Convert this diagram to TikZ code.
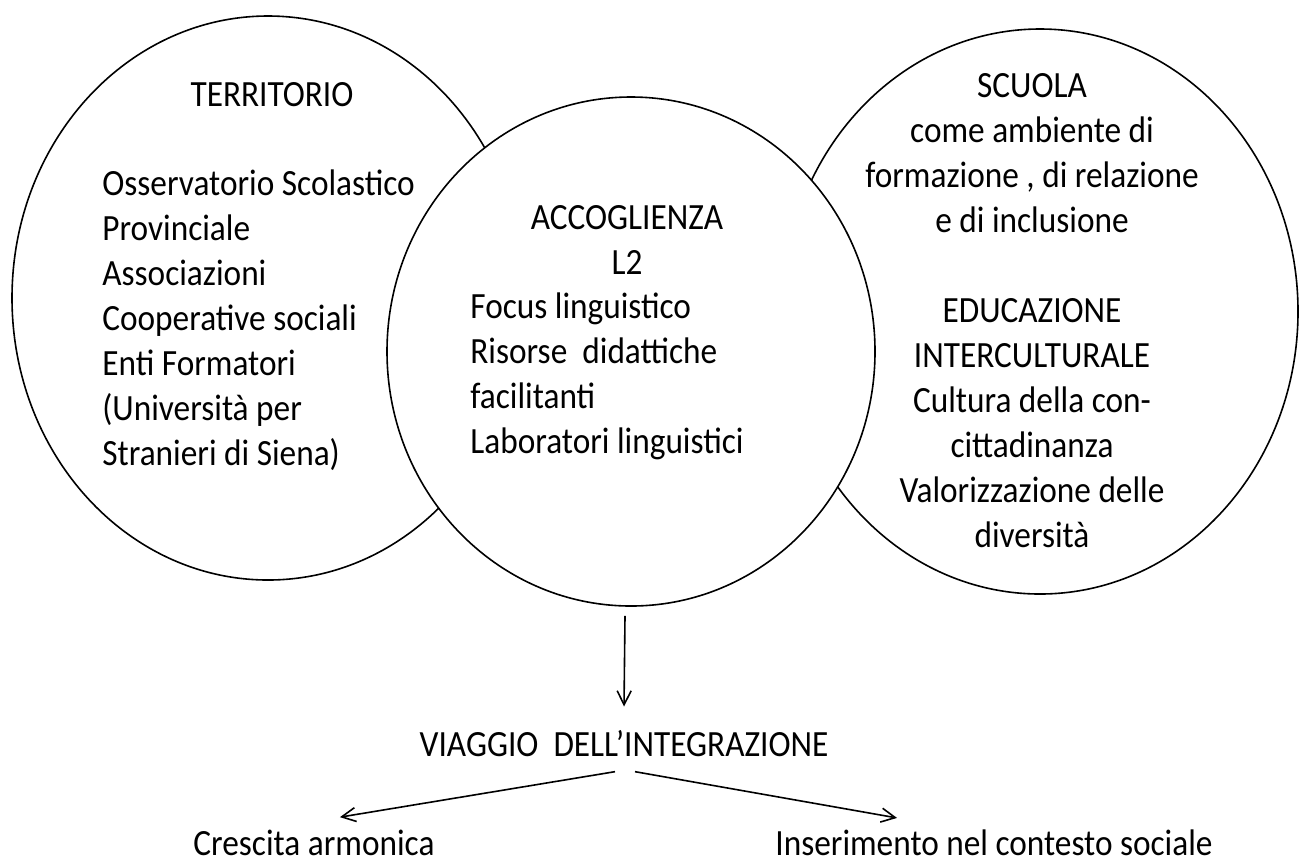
\documentclass[tikz,border=0pt]{standalone}
\usepackage{fontspec}
\setmainfont{Carlito}[FakeStretch=0.9]
\usetikzlibrary{shapes.geometric,arrows.meta,positioning}

\tikzset{
  zone/.style={ellipse, draw, line width=0.8pt, inner sep=0pt},
  lbl/.style={font=\fontsize{18.5}{22.5}\selectfont, inner sep=0pt},
  arr/.style={line width=0.8pt, -{Straight Barb[length=7pt,width=7pt]}}
}

\begin{document}
\begin{tikzpicture}[x=0.5pt,y=-0.5pt]
  \useasboundingbox (0,0) rectangle (1299,859);

  % Ellipses
  \node[zone, minimum width=256pt, minimum height=282pt] (territorio) at (268,298) {};
  \node[zone, minimum width=258pt, minimum height=282.5pt] (scuola) at (1040,311.5) {};
  \node[zone, fill=white, minimum width=244pt, minimum height=254.5pt] (accoglienza) at (631,351.5) {};

  % Territorio (base = last line)
  \node[lbl, anchor=base] (terrtitle) at (272,106) {TERRITORIO};
  \node[lbl, anchor=base west, align=left] (terrlist) at (102,465)
    {Osservatorio Scolastico\\Provinciale\\Associazioni\\Cooperative sociali\\Enti Formatori\\(Università per\\Stranieri di Siena)};

  % Accoglienza
  \node[lbl, anchor=base, align=center] (acctitle) at (627,274) {ACCOGLIENZA\\L2};
  \node[lbl, anchor=base west, align=left] (acclist) at (470,453)
    {Focus linguistico\\Risorse~ didattiche\\facilitanti\\Laboratori linguistici};

  % Scuola
  \node[lbl, anchor=base, align=center] (scuolatext) at (1032,547)
    {SCUOLA\\come ambiente di\\formazione , di relazione\\e di inclusione\\[22.5pt]EDUCAZIONE\\INTERCULTURALE\\Cultura della con-\\cittadinanza\\Valorizzazione delle\\diversità};

  % Bottom
  \node[lbl, anchor=base] (viaggio) at (624,756) {VIAGGIO~ DELL’INTEGRAZIONE};
  \node[lbl, anchor=base west] (crescita) at (193,855) {Crescita armonica};
  \node[lbl, anchor=base west] (inserimento) at (775,855) {Inserimento nel contesto sociale};

  % Arrows
  \draw[arr] ([xshift=-3pt,yshift=-4.5pt]accoglienza.south) -- ([yshift=11.5pt]viaggio.north);
  \draw[arr] ([xshift=-4.5pt,yshift=-7.5pt]viaggio.south) -- ([xshift=13pt,yshift=6pt]crescita.north);
  \draw[arr] ([xshift=5.5pt,yshift=-7.5pt]viaggio.south) -- ([xshift=-48.5pt,yshift=5.5pt]inserimento.north);
\end{tikzpicture}
\end{document}
